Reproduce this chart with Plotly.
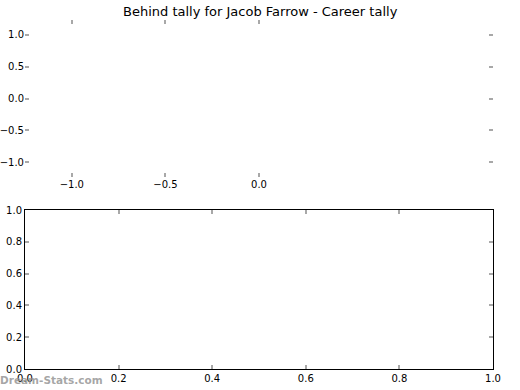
import plotly.graph_objects as go

title_text = "Behind tally for Jacob Farrow - Career tally"
watermark = "Dream-Stats.com"

top_x_range = [-1.25, 1.25]
top_y_range = [-1.23, 1.23]
top_x_ticks = [-1.0, -0.5, 0.0]
top_y_ticks = [1.0, 0.5, 0.0, -0.5, -1.0]

bot_range = [0.0, 1.0]
bot_ticks = [0.0, 0.2, 0.4, 0.6, 0.8, 1.0]

W, H = 520, 390
L, R = 25, 493
font = dict(family="DejaVu Sans", size=10, color="black")
tickgray = "#a8a8a8"

fig = go.Figure()
# invisible traces to create the axes
fig.add_trace(go.Scatter(x=[], y=[], xaxis="x", yaxis="y", showlegend=False))
fig.add_trace(go.Scatter(x=[], y=[], xaxis="x2", yaxis="y2", showlegend=False))

def fmt(v):
    return f"{v:.1f}".replace("-", "\u2212")

common = dict(ticks="inside", ticklen=4, tickwidth=1.5, tickcolor=tickgray,
              showgrid=False, zeroline=False, tickfont=font, fixedrange=True,
              automargin=False)

fig.update_layout(
    width=W, height=H,
    margin=dict(l=0, r=0, t=0, b=0),
    paper_bgcolor="white", plot_bgcolor="white",
    showlegend=False,
    xaxis=dict(domain=[L / W, R / W], range=top_x_range, anchor="y",
               tickvals=top_x_ticks, ticktext=[fmt(v) for v in top_x_ticks],
               showline=False, mirror="ticks", **common),
    yaxis=dict(domain=[(H - 177) / H, (H - 20) / H], range=top_y_range, anchor="x",
               tickvals=top_y_ticks, ticktext=[fmt(v) for v in top_y_ticks],
               showline=False, mirror="ticks", **common),
    xaxis2=dict(domain=[L / W, R / W], range=bot_range, anchor="y2",
                tickvals=bot_ticks, ticktext=[fmt(v) for v in bot_ticks],
                showline=True, linecolor="black", linewidth=1, mirror="ticks", **common),
    yaxis2=dict(domain=[(H - 369) / H, (H - 210) / H], range=bot_range, anchor="x2",
                tickvals=bot_ticks, ticktext=[fmt(v) for v in bot_ticks],
                showline=True, linecolor="black", linewidth=1, mirror="ticks", **common),
    annotations=[
        dict(text=title_text, x=0.5, y=(H - 11) / H, xref="paper", yref="paper",
             xanchor="center", yanchor="middle", showarrow=False,
             font=dict(family="DejaVu Sans", size=13, color="black")),
        dict(text="<b>" + watermark + "</b>", x=-2 / W, y=(H - 380) / H, xref="paper", yref="paper",
             xanchor="left", yanchor="middle", showarrow=False,
             font=dict(family="DejaVu Sans", size=10.5, color="rgba(150,150,150,0.85)")),
    ],
)

fig.write_html("out.html")
